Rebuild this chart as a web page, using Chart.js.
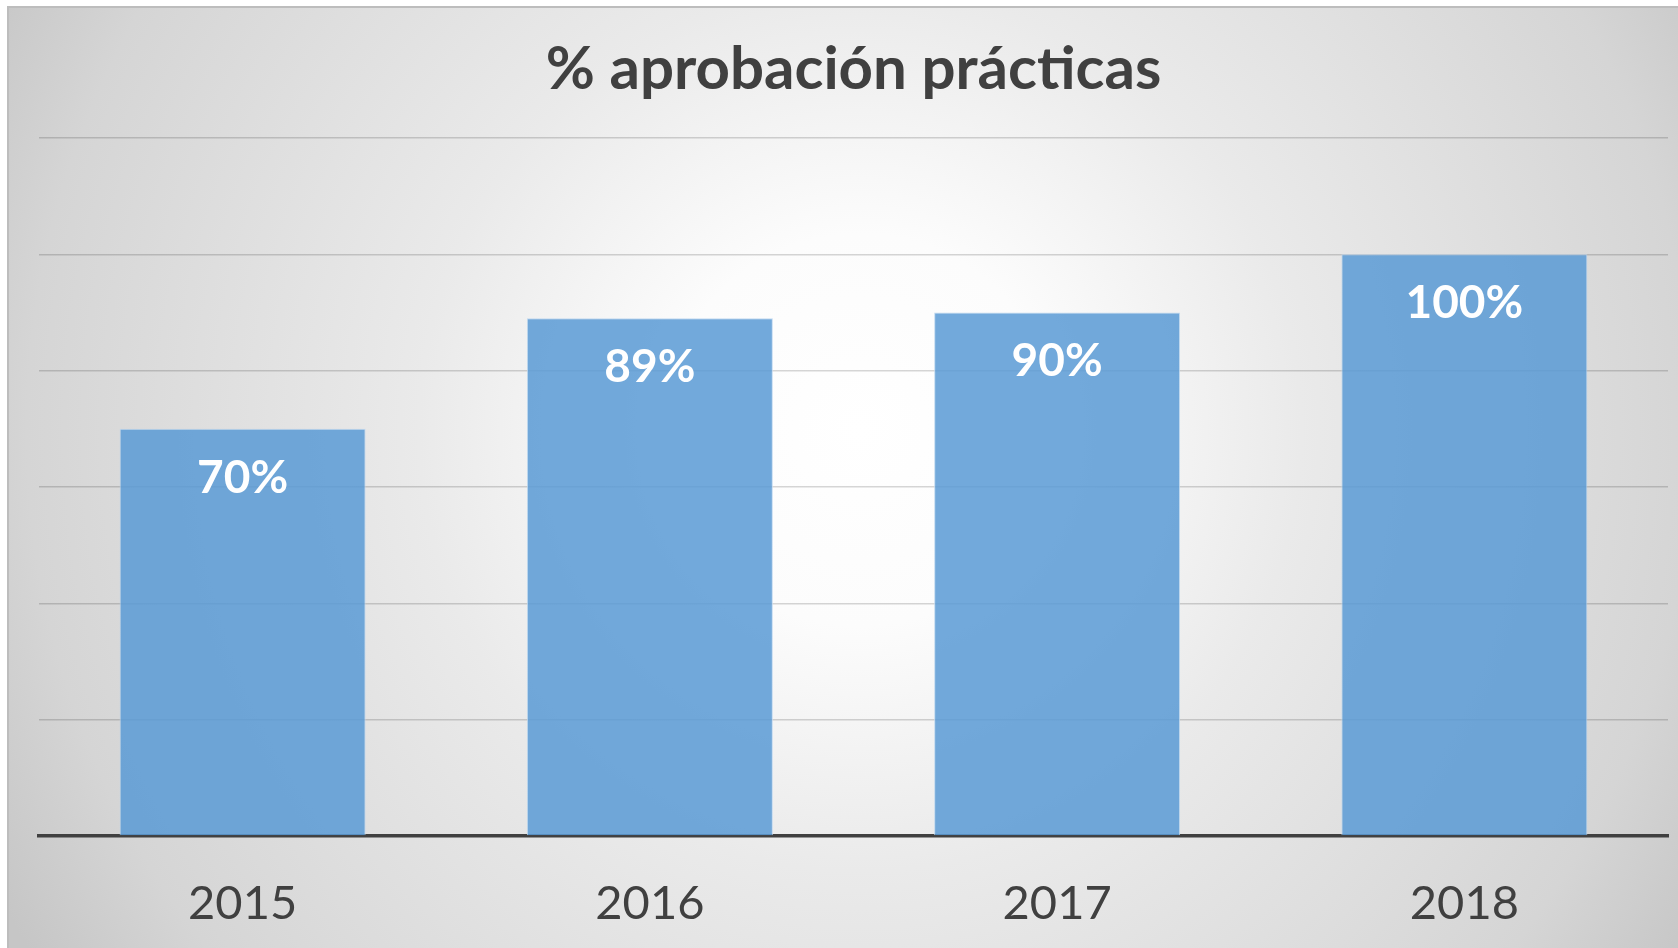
<!DOCTYPE html>
<html>
<head>
<meta charset="utf-8">
<script src="https://cdn.jsdelivr.net/npm/chart.js@4/dist/chart.umd.min.js"></script>
<style>
  html, body { margin: 0; padding: 0; background: #ffffff; }
  #wrap { position: absolute; left: 0; top: 0; width: 1678px; height: 948px; }
</style>
</head>
<body>
<div id="wrap"><canvas id="c" width="1678" height="948"></canvas></div>
<script>
const titleText = '% aprobación prácticas';
const categories = ['2015', '2016', '2017', '2018'];
const approvalValues = [70, 89, 90, 100];
const yMin = 0;
const yMax = 120;
const yStep = 20;

const backgroundPlugin = {
  id: 'bgPanel',
  beforeDraw(chart) {
    const ctx = chart.ctx;
    const x0 = 8, y0 = 7, x1 = chart.width, y1 = chart.height;
    ctx.save();
    const cx = 860, cy = 430;
    const g = ctx.createRadialGradient(cx, cy, 0, cx, cy, 980);
    g.addColorStop(0, '#ffffff');
    g.addColorStop(0.2, '#fcfcfc');
    g.addColorStop(0.45, '#eaeaea');
    g.addColorStop(0.85, '#d5d5d5');
    g.addColorStop(1, '#c6c6c6');
    ctx.fillStyle = g;
    ctx.fillRect(x0, y0, x1 - x0, y1 - y0);
    ctx.strokeStyle = '#bdbdbd';
    ctx.lineWidth = 2;
    ctx.beginPath();
    ctx.moveTo(x0, y1);
    ctx.lineTo(x0, y0);
    ctx.lineTo(x1, y0);
    ctx.stroke();
    ctx.restore();
  }
};

const valueLabelPlugin = {
  id: 'valueLabels',
  afterDatasetsDraw(chart) {
    const ctx = chart.ctx;
    const meta = chart.getDatasetMeta(0);
    ctx.save();
    ctx.fillStyle = '#ffffff';
    ctx.font = 'bold 46px Lato';
    ctx.textAlign = 'center';
    ctx.textBaseline = 'middle';
    meta.data.forEach((bar, i) => {
      ctx.fillText(approvalValues[i] + '%', bar.x, bar.y + 49);
    });
    ctx.restore();
  }
};

new Chart(document.getElementById('c'), {
  type: 'bar',
  data: {
    labels: categories,
    datasets: [{
      data: approvalValues,
      backgroundColor: 'rgba(91,155,213,0.86)',
      borderColor: 'rgba(190,215,240,0.9)',
      borderWidth: 1,
      categoryPercentage: 1.0,
      barPercentage: 0.604
    }]
  },
  options: {
    responsive: false,
    animation: false,
    devicePixelRatio: 1,
    layout: { padding: { left: 39, right: 10, top: 10, bottom: 0 } },
    plugins: {
      legend: { display: false },
      tooltip: { enabled: false },
      title: {
        display: true,
        text: titleText,
        color: '#404040',
        font: { family: 'Lato', size: 60, weight: 'bold', lineHeight: 1.2 },
        padding: { top: 24, bottom: 32 }
      }
    },
    scales: {
      x: {
        grid: { display: false, drawTicks: false },
        border: { display: true, color: '#404040', width: 3.5 },
        ticks: {
          color: '#404040',
          font: { family: 'Lato', size: 47, lineHeight: 1.2 },
          padding: 40
        },
        afterFit(scale) { scale.height = 112; }
      },
      y: {
        min: yMin,
        max: yMax,
        ticks: { display: false, stepSize: yStep },
        grid: { color: 'rgba(0,0,0,0.16)', lineWidth: 1.5, drawTicks: false },
        border: { display: false }
      }
    }
  },
  plugins: [backgroundPlugin, valueLabelPlugin]
});
</script>
</body>
</html>
